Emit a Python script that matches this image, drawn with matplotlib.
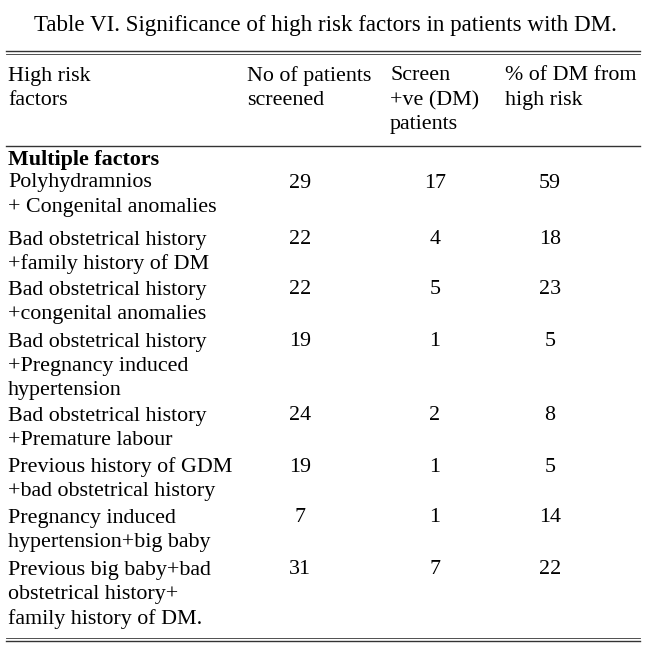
import matplotlib
matplotlib.use("Agg")
import matplotlib.pyplot as plt

title = "Table VI. Significance of high risk factors in patients with DM."
headers = [["High risk", "factors"], ["No of patients", "screened"],
           ["Screen", "+ve (DM)", "patients"], ["% of DM from", "high risk"]]
factors = [["Polyhydramnios", "+ Congenital anomalies"],
           ["Bad obstetrical history", "+family history of DM"],
           ["Bad obstetrical history", "+congenital anomalies"],
           ["Bad obstetrical history", "+Pregnancy induced", "hypertension"],
           ["Bad obstetrical history", "+Premature labour"],
           ["Previous history of GDM", "+bad obstetrical history"],
           ["Pregnancy induced", "hypertension+big baby"],
           ["Previous big baby+bad", "obstetrical history+", "family history of DM."]]
screened = [29, 22, 22, 19, 24, 19, 7, 31]
positive = [17, 4, 5, 1, 2, 1, 1, 7]
percent = [59, 18, 23, 5, 8, 5, 14, 22]

fig = plt.figure(figsize=(6.5, 6.62), dpi=100)
ax = fig.add_axes([0, 0, 1, 1])
ax.set_xlim(0, 650); ax.set_ylim(662, 0); ax.axis("off")
fam = ["Liberation Serif", "DejaVu Serif"]
fs = 15.8
ax.text(325, 25, title, ha="center", va="center", family=fam, fontsize=16.6)
ax.plot([6, 640], [51, 51], color="#333", lw=1.0)
ax.plot([6, 640], [54, 54], color="#333", lw=0.6)
colx = [8, 247, 390, 505]
ls = 24.5
for x, h in zip(colx, headers):
    for i, t in enumerate(h):
        ax.text(x, 76 + i * ls, t, ha="left", va="center", family=fam, fontsize=fs)
ax.plot([6, 640], [146, 146], color="#333", lw=1.0)
ax.text(8, 160, "Multiple factors", ha="left", va="center", family=fam,
        fontsize=fs, weight="bold")
starts = [183, 240, 290, 342, 416, 467, 518, 570]
for y0, f, a, b, c in zip(starts, factors, screened, positive, percent):
    for i, t in enumerate(f):
        ax.text(8, y0 + i * 24.5, t, ha="left", va="center", family=fam, fontsize=fs)
    ax.text(300, y0, str(a), ha="center", va="center", family=fam, fontsize=fs)
    ax.text(435, y0, str(b), ha="center", va="center", family=fam, fontsize=fs)
    ax.text(550, y0, str(c), ha="center", va="center", family=fam, fontsize=fs)
ax.plot([6, 640], [638, 638], color="#333", lw=0.6)
ax.plot([6, 640], [641, 641], color="#333", lw=1.0)
fig.savefig("out.png", dpi=100)
